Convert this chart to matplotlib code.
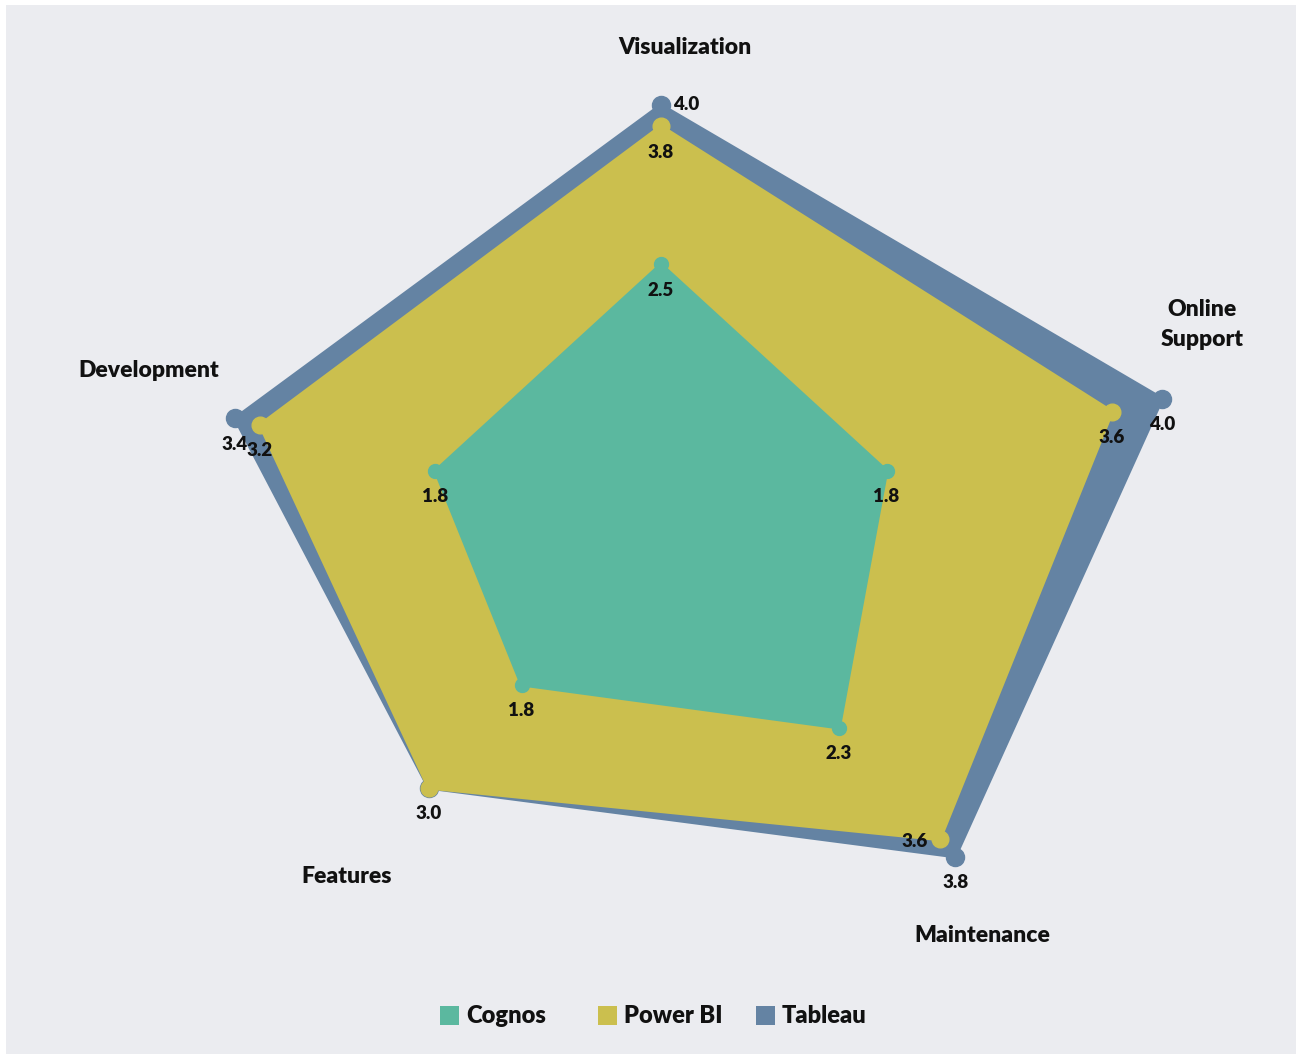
import numpy as np
import matplotlib.pyplot as plt
from matplotlib.patches import Rectangle

# data
categories = ['Visualization', 'Online\nSupport', 'Maintenance', 'Features', 'Development']
series = ['Cognos', 'Power BI', 'Tableau']
cognos = [2.5, 1.8, 2.3, 1.8, 1.8]
power_bi = [3.8, 3.6, 3.6, 3.0, 3.2]
tableau = [4.0, 4.0, 3.8, 3.0, 3.4]
colors = ['#5bb89f', '#cbbf4e', '#6483a3']

plt.rcParams['font.family'] = ['Lato', 'DejaVu Sans']
plt.rcParams['font.weight'] = 'heavy'

W, H = 1296, 1054
fig = plt.figure(figsize=(W / 100, H / 100), dpi=100, facecolor='white')
fig.patches.append(Rectangle((6 / W, 0), 1, 1 - 5 / H, transform=fig.transFigure,
                             facecolor='#ebecf0', edgecolor='none', zorder=-10))

# stretched polar box, centre at (661, 530) px
cx, cy, rx, ry = 661, 530, 527, 425
ax = fig.add_axes([(cx - rx) / W, 1 - (cy + ry) / H, 2 * rx / W, 2 * ry / H], projection='polar')
ax.set_aspect('auto')
ax.set_theta_offset(np.pi / 2)
ax.set_theta_direction(-1)

theta = np.arange(len(categories)) * 2 * np.pi / len(categories)
th_c = np.append(theta, theta[0])

data = [cognos, power_bi, tableau]
sizes = [10, 12, 13]
for i in [2, 1, 0]:
    v = np.append(data[i], data[i][0])
    ax.fill(th_c, v, facecolor=colors[i], edgecolor=colors[i], lw=2.5, zorder=3 - i, clip_on=False)
    ax.plot(theta, data[i], 'o', ms=sizes[i], color=colors[i], zorder=3 - i, clip_on=False)

# value labels
offsets = {(2, 0): (25, 0), (1, 2): (-25, -2)}
for i in [2, 1, 0]:
    for k in range(len(categories)):
        if i == 2 and data[2][k] == data[1][k] and (1, k) not in offsets and (2, k) not in offsets:
            continue
        dx, dy = offsets.get((i, k), (0, -26))
        ax.annotate(f'{data[i][k]:.1f}', xy=(theta[k], data[i][k]), xytext=(dx, dy),
                    textcoords='offset pixels', ha='center', va='center',
                    fontsize=13.5, color='#111111', zorder=10, annotation_clip=False)

# category labels
cat_off = [(24, 57), (40, 74), (12, -62), (-5, -3), (-11, 28)]
for k, name in enumerate(categories):
    ax.annotate(name, xy=(theta[k], 4.0), xytext=cat_off[k], textcoords='offset pixels',
                ha='center', va='center', fontsize=16.5, color='#111111',
                linespacing=1.55, annotation_clip=False)

ax.set_ylim(0, 4)
ax.set_xticks([])
ax.set_yticks([])
ax.grid(False)
ax.spines['polar'].set_visible(False)
ax.patch.set_visible(False)

# legend
for i, name in enumerate(series):
    x0 = 440 + 158 * i
    fig.patches.append(Rectangle((x0 / W, 1 - 1025 / H), 19 / W, 19 / H, transform=fig.transFigure,
                                 facecolor=colors[i], edgecolor='none'))
    fig.text((x0 + 26) / W, 1 - 1016 / H, name, ha='left', va='center', fontsize=17, color='#111111')

fig.savefig('out.png', dpi=100, facecolor=fig.get_facecolor())
